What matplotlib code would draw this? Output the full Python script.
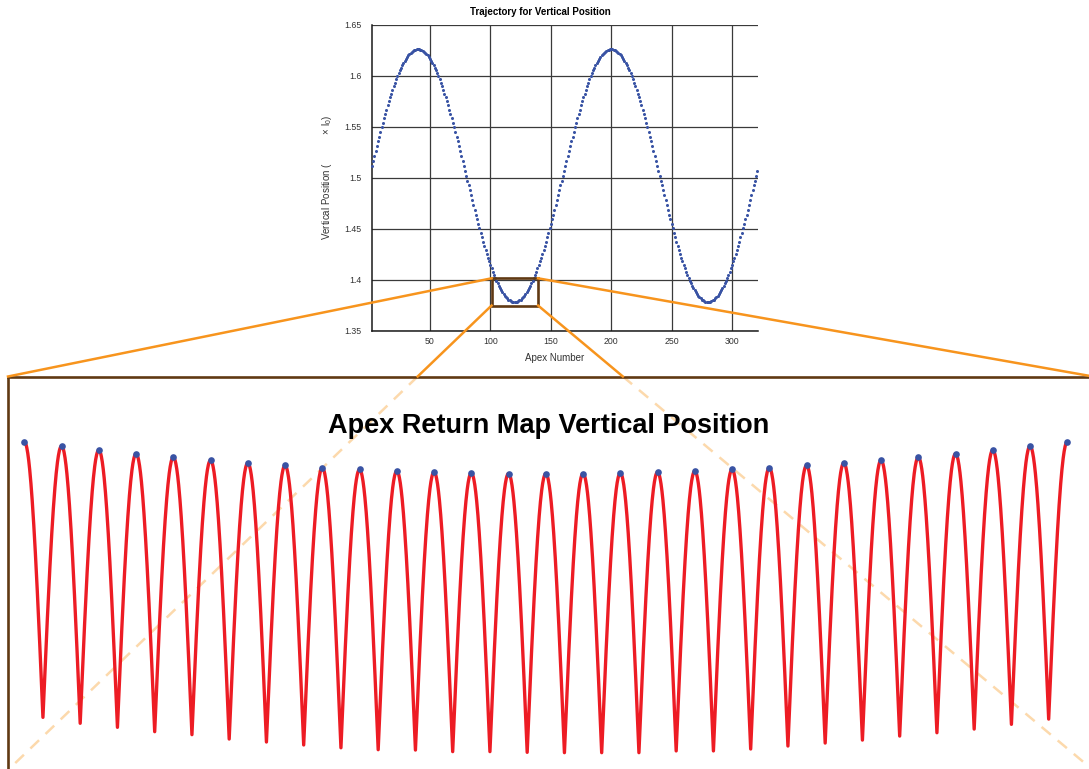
import numpy as np
import matplotlib
matplotlib.use("Agg")
import matplotlib.pyplot as plt
from matplotlib.lines import Line2D
from matplotlib.patches import Rectangle

plt.rcParams["font.family"] = ["Liberation Sans", "DejaVu Sans"]
plt.rcParams["mathtext.fontset"] = "custom"
plt.rcParams["mathtext.rm"] = "Liberation Sans"
plt.rcParams["mathtext.it"] = "Liberation Sans:italic"
plt.rcParams["mathtext.bf"] = "Liberation Sans:bold"

# ---------------------------------------------------------------- data
# apex heights for every hop, starting at apex 2
vertical_position = [
    1.5117, 1.5166, 1.5214, 1.5262, 1.5309, 1.5357, 1.5403, 1.5449, 1.5495, 1.5539,
    1.5583, 1.5626, 1.5668, 1.5709, 1.5749, 1.5788, 1.5825, 1.5862, 1.5897, 1.5931,
    1.5963, 1.5994, 1.6023, 1.6051, 1.6077, 1.6102, 1.6125, 1.6146, 1.6166, 1.6183,
    1.6199, 1.6213, 1.6226, 1.6236, 1.6245, 1.6251, 1.6256, 1.6259, 1.6260,
    1.6259, 1.6256, 1.6251, 1.6245, 1.6236, 1.6226, 1.6213, 1.6199, 1.6183, 1.6166,
    1.6146, 1.6125, 1.6102, 1.6077, 1.6051, 1.6023, 1.5994, 1.5963, 1.5931, 1.5897,
    1.5862, 1.5825, 1.5788, 1.5749, 1.5709, 1.5668, 1.5626, 1.5583, 1.5539, 1.5495,
    1.5449, 1.5403, 1.5357, 1.5309, 1.5262, 1.5214, 1.5166, 1.5117, 1.5069, 1.5020,
    1.4971, 1.4923, 1.4874, 1.4826, 1.4778, 1.4731, 1.4683, 1.4637, 1.4591, 1.4545,
    1.4501, 1.4457, 1.4414, 1.4372, 1.4331, 1.4291, 1.4252, 1.4215, 1.4178, 1.4143,
    1.4109, 1.4077, 1.4046, 1.4017, 1.3989, 1.3963, 1.3938, 1.3915, 1.3894, 1.3874,
    1.3857, 1.3841, 1.3827, 1.3814, 1.3804, 1.3795, 1.3789, 1.3784, 1.3781, 1.3780,
    1.3781, 1.3784, 1.3789, 1.3795, 1.3804, 1.3814, 1.3827, 1.3841, 1.3857, 1.3874,
    1.3894, 1.3915, 1.3938, 1.3963, 1.3989, 1.4017, 1.4046, 1.4077, 1.4109, 1.4143,
    1.4178, 1.4215, 1.4252, 1.4291, 1.4331, 1.4372, 1.4414, 1.4457, 1.4501, 1.4545,
    1.4591, 1.4637, 1.4683, 1.4731, 1.4778, 1.4826, 1.4874, 1.4923, 1.4971, 1.5020,
    1.5069, 1.5117, 1.5166, 1.5214, 1.5262, 1.5309, 1.5357, 1.5403, 1.5449, 1.5495,
    1.5539, 1.5583, 1.5626, 1.5668, 1.5709, 1.5749, 1.5788, 1.5825, 1.5862, 1.5897,
    1.5931, 1.5963, 1.5994, 1.6023, 1.6051, 1.6077, 1.6102, 1.6125, 1.6146, 1.6166,
    1.6183, 1.6199, 1.6213, 1.6226, 1.6236, 1.6245, 1.6251, 1.6256, 1.6259, 1.6260,
    1.6259, 1.6256, 1.6251, 1.6245, 1.6236, 1.6226, 1.6213, 1.6199, 1.6183, 1.6166,
    1.6146, 1.6125, 1.6102, 1.6077, 1.6051, 1.6023, 1.5994, 1.5963, 1.5931, 1.5897,
    1.5862, 1.5825, 1.5788, 1.5749, 1.5709, 1.5668, 1.5626, 1.5583, 1.5539, 1.5495,
    1.5449, 1.5403, 1.5357, 1.5309, 1.5262, 1.5214, 1.5166, 1.5117, 1.5069, 1.5020,
    1.4971, 1.4923, 1.4874, 1.4826, 1.4778, 1.4731, 1.4683, 1.4637, 1.4591, 1.4545,
    1.4501, 1.4457, 1.4414, 1.4372, 1.4331, 1.4291, 1.4252, 1.4215, 1.4178, 1.4143,
    1.4109, 1.4077, 1.4046, 1.4017, 1.3989, 1.3963, 1.3938, 1.3915, 1.3894, 1.3874,
    1.3857, 1.3841, 1.3827, 1.3814, 1.3804, 1.3795, 1.3789, 1.3784, 1.3781, 1.3780,
    1.3781, 1.3784, 1.3789, 1.3795, 1.3804, 1.3814, 1.3827, 1.3841, 1.3857, 1.3874,
    1.3894, 1.3915, 1.3938, 1.3963, 1.3989, 1.4017, 1.4046, 1.4077, 1.4109, 1.4143,
    1.4178, 1.4215, 1.4252, 1.4291, 1.4331, 1.4372, 1.4414, 1.4457, 1.4501, 1.4545,
    1.4591, 1.4637, 1.4683, 1.4731, 1.4778, 1.4826, 1.4874, 1.4923, 1.4971, 1.5020,
    1.5069,
]
first_apex = 2
apex_number = np.arange(first_apex, first_apex + len(vertical_position))

y_ticks = [1.35, 1.4, 1.45, 1.5, 1.55, 1.6, 1.65]
y_tick_labels = ["1.35", "1.4", "1.45", "1.5", "1.55", "1.6", "1.65"]
x_ticks = [50, 100, 150, 200, 250, 300]
x_tick_labels = ["50", "100", "150", "200", "250", "300"]

# apexes shown in the return-map close-up
zoom_first_apex = 106
zoom_last_apex = 134
# lowest point of each stance between consecutive apexes in the close-up
trough_heights = [
    1.2387, 1.2353, 1.2330, 1.2305, 1.2288, 1.2263, 1.2246, 1.2229, 1.2213, 1.2202,
    1.2200, 1.2191, 1.2191, 1.2187, 1.2185, 1.2185, 1.2185, 1.2195, 1.2195, 1.2206,
    1.2223, 1.2240, 1.2257, 1.2280, 1.2299, 1.2320, 1.2347, 1.2377,
]

# ---------------------------------------------------------------- style
BLUE = "#3953a4"
RED = "#ed1c24"
BROWN = "#603913"
ORANGE = "#f7941d"
PEACH = "#fcd9ac"

W, H = 1089, 769
fig = plt.figure(figsize=(W / 100, H / 100), dpi=100)


def px_rect(x0, y0, x1, y1):
    """Figure-fraction rectangle from pixel edges measured from the top-left."""
    return [x0 / W, 1 - y1 / H, (x1 - x0) / W, (y1 - y0) / H]


# ---------------------------------------------------------------- trajectory
ax = fig.add_axes(px_rect(371.7, 24.7, 758, 330.5))
ax.plot(apex_number, vertical_position, "o", ms=2.2, color=BLUE, mec="none",
        clip_on=False, zorder=3)
ax.set_xlim(1.8, 321.5)
ax.set_ylim(1.35, 1.65)
ax.set_xticks(x_ticks, x_tick_labels)
ax.set_yticks(y_ticks, y_tick_labels)
ax.grid(True, color="#3a3a3a", lw=0.9)
ax.set_axisbelow(True)
for side in ("top", "right"):
    ax.spines[side].set_visible(False)
for side in ("left", "bottom"):
    ax.spines[side].set_color("#1a1a1a")
    ax.spines[side].set_linewidth(1.1)
ax.tick_params(axis="both", length=0, labelsize=6.3, labelcolor="#333333")
ax.tick_params(axis="x", pad=4.5)
ax.tick_params(axis="y", pad=7.5)
ax.set_xlabel("Apex Number", fontsize=7, color="#333333")
ax.xaxis.label.set_va("center")
ax.xaxis.set_label_coords(0.4724, -0.089)
ax.set_ylabel("Vertical Position (           \u00d7 l$_0$)",
              fontsize=7, color="#333333")
ax.yaxis.label.set_va("center")
ax.yaxis.set_label_coords(-0.117, 0.5)
fig.text(540.5 / W, 1 - 14.8 / H, "Trajectory for Vertical Position",
         ha="center", va="baseline", fontsize=7, fontweight="bold")

# highlighted window
win_x0, win_x1 = 101.0, 139.5
win_y0, win_y1 = 1.3745, 1.4012
ax.add_patch(Rectangle((win_x0, win_y0), win_x1 - win_x0, win_y1 - win_y0,
                       fill=False, ec=BROWN, lw=1.9, zorder=4))

# ---------------------------------------------------------------- close-up
ax2 = fig.add_axes(px_rect(8, 376.5, 1093, 770))
ax2.set_facecolor("none")
ax2.set_xlim(105.562, 134.69)
ax2.set_ylim(1.20859, 1.43357)
ax2.set_xticks([])
ax2.set_yticks([])
for side in ("right", "bottom"):
    ax2.spines[side].set_visible(False)
for side in ("left", "top"):
    ax2.spines[side].set_color(BROWN)
    ax2.spines[side].set_linewidth(1.9)

zoom_apex = np.arange(zoom_first_apex, zoom_last_apex + 1)
zoom_heights = [vertical_position[a - first_apex] for a in zoom_apex]

# continuous height: flight arcs falling from each apex into the stance low
# point halfway to the next apex, then rising to that next apex
s = np.linspace(0.0, 1.0, 60)
path_x, path_y = [], []
for i, low in enumerate(trough_heights):
    a0, a1 = zoom_apex[i], zoom_apex[i + 1]
    h0, h1 = zoom_heights[i], zoom_heights[i + 1]
    mid = 0.5 * (a0 + a1)
    path_x.extend(a0 + (mid - a0) * s)
    path_y.extend(low + (h0 - low) * np.cos(0.5 * np.pi * s))
    path_x.extend(mid + (a1 - mid) * s[1:])
    path_y.extend(low + (h1 - low) * np.sin(0.5 * np.pi * s[1:]))
ax2.plot(path_x, path_y, color=RED, lw=2.4, solid_joinstyle="round",
         solid_capstyle="round", zorder=2)
ax2.plot(zoom_apex, zoom_heights, "o", ms=4.8, color=BLUE, mec="none", zorder=3)
ax2.text(548.5 / W, 1 - 432.7 / H, "Apex Return Map Vertical Position",
         transform=fig.transFigure, ha="center", va="baseline",
         fontsize=19.5, fontweight="bold", zorder=5)

# ---------------------------------------------------------------- connectors
to_fig = fig.transFigure.inverted()
box_tl = ax.transData.transform((win_x0, win_y1))
box_tr = ax.transData.transform((win_x1, win_y1))
box_bl = ax.transData.transform((win_x0, win_y0))
box_br = ax.transData.transform((win_x1, win_y0))
in_tl = ax2.transAxes.transform((0, 1))
in_tr = ax2.transAxes.transform((1, 1))
in_bl = ax2.transAxes.transform((0, 0))
in_br = ax2.transAxes.transform((1, 0))
inset_top = in_tl[1]


def connector(p, q, **kw):
    a, b = to_fig.transform(p), to_fig.transform(q)
    fig.add_artist(Line2D([a[0], b[0]], [a[1], b[1]],
                          transform=fig.transFigure, **kw))


for p, q in ((box_tl, in_tl), (box_tr, in_tr)):
    connector(p, q, color=ORANGE, lw=1.8, zorder=3)

for p, q in ((box_bl, in_bl), (box_br, in_br)):
    t = (inset_top - p[1]) / (q[1] - p[1])
    m = p + t * (q - p)
    connector(p, m, color=ORANGE, lw=1.8, zorder=3)
    connector(m, q, color=PEACH, lw=1.8, dashes=(4.8, 3.6), zorder=-1)

fig.savefig("out.png", dpi=100)
